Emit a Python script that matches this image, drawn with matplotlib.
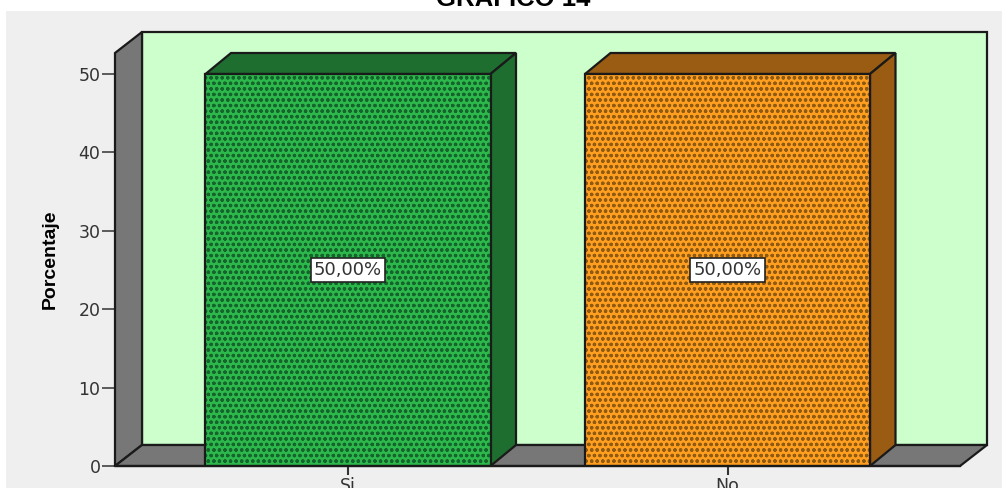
import matplotlib
matplotlib.use("Agg")
import matplotlib.pyplot as plt
from matplotlib.patches import Polygon, Rectangle

categories = ["Si", "No"]
values = [50.0, 50.0]
labels = ["50,00%", "50,00%"]
yticks = [0, 10, 20, 30, 40, 50]
face = ["#2DB84C", "#FF9E1F"]
side = ["#1E6E30", "#9A5C12"]
dots = ["#14642C", "#8F5A12"]

W, H = 1003, 488
px_x = 379.5            # pixels per category
px_y = 7.84             # pixels per percent
dx = 27 / px_x          # 3d depth in data units
dy = 21 / px_y
bar_dx = 25.5 / px_x
width = 285 / px_x
xmin, xmax = (115 - 348) / px_x, (960 - 348) / px_x
ymax = (466 - 53) / px_y

plt.rcParams["hatch.linewidth"] = 0.9

fig = plt.figure(figsize=(W / 100, H / 100), dpi=100, facecolor="white")
fig.patches.append(Rectangle((6 / W, 0), 1, 1 - 11 / H, transform=fig.transFigure,
                             facecolor="#EFEFEF", edgecolor="none", zorder=-5))
ax = fig.add_axes([115 / W, (H - 466) / H, 845 / W, 413 / H])
ax.set_xlim(xmin, xmax)
ax.set_ylim(0, ymax)
ax.patch.set_visible(False)


def poly(pts, color, z):
    ax.add_patch(Polygon(pts, closed=True, facecolor=color, edgecolor="#1a1a1a",
                         linewidth=1.6, zorder=z, clip_on=False))


# back wall, left wall, floor
poly([(xmin + dx, dy), (xmax + dx, dy), (xmax + dx, ymax + dy), (xmin + dx, ymax + dy)], "#CCFFCC", 1)
poly([(xmin, 0), (xmin + dx, dy), (xmin + dx, ymax + dy), (xmin, ymax)], "#777777", 2)
poly([(xmin, 0), (xmax, 0), (xmax + dx, dy), (xmin + dx, dy)], "#777777", 2)

xs = list(range(len(categories)))
for i, v in enumerate(values):
    l, r = xs[i] - width / 2, xs[i] + width / 2
    poly([(l, v), (r, v), (r + bar_dx, v + dy), (l + bar_dx, v + dy)], side[i], 3)
    poly([(r, 0), (r + bar_dx, dy), (r + bar_dx, v + dy), (r, v)], side[i], 3)

for i, v in enumerate(values):
    b = ax.bar(xs[i], v, width, facecolor=face[i], edgecolor=dots[i], hatch="ooo",
               linewidth=0, zorder=4)
    ax.bar(xs[i], v, width, fill=False, edgecolor="#1a1a1a", linewidth=1.6, zorder=5)
    ax.bar_label(b, labels=[labels[i]], label_type="center", fontsize=13, color="#333333",
                 zorder=6, bbox=dict(boxstyle="square,pad=0.18", facecolor="white",
                                     edgecolor="#222222", linewidth=1.2))

for s in ["top", "right", "left"]:
    ax.spines[s].set_visible(False)
ax.spines["bottom"].set_zorder(7)
ax.spines["bottom"].set_linewidth(1.6)
ax.spines["bottom"].set_color("#1a1a1a")

ax.set_yticks(yticks)
ax.set_xticks(xs, categories)
ax.tick_params(axis="y", length=9.5, width=1.1, color="#333333", labelcolor="#333333",
               labelsize=12.5, pad=1)
ax.tick_params(axis="x", length=6.5, width=1.5, color="#333333", labelcolor="#333333",
               labelsize=12.5, pad=1.5)
ax.set_ylabel("Porcentaje", fontsize=14, fontweight="bold",
              family=["Liberation Sans Narrow", "Liberation Sans"], labelpad=14)

fig.text(513 / W, (H - 6) / H, "GRÁFICO 14", ha="center", va="baseline", fontsize=18.5,
         fontweight="bold", family="Liberation Sans", color="black")

fig.savefig("out.png", dpi=100, facecolor="white")
